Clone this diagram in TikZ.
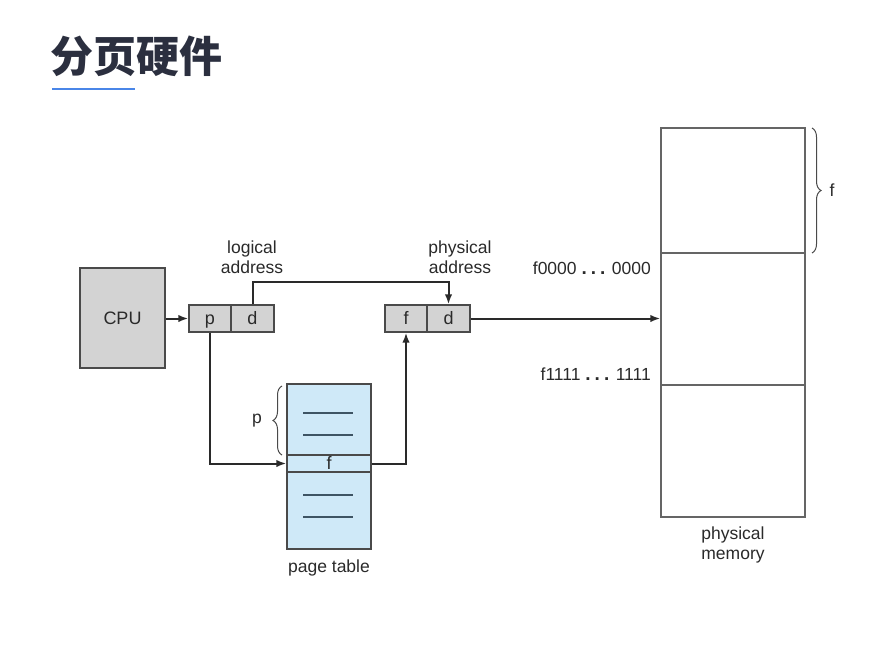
\documentclass[tikz,border=0pt]{standalone}
\usepackage{fontspec}
\setmainfont{Liberation Sans}
\newfontfamily\cjk{Noto Sans CJK SC}
\usetikzlibrary{arrows.meta,decorations.pathreplacing,calc}
\definecolor{boxgray}{HTML}{D3D3D3}
\definecolor{edgegray}{HTML}{4A4A4A}
\definecolor{ptblue}{HTML}{CFE9F8}
\definecolor{ptline}{HTML}{3E5464}
\definecolor{titlecol}{HTML}{2B2F3F}
\definecolor{ulblue}{HTML}{4A86E8}
\definecolor{txt}{HTML}{2A2A2A}
\newcommand{\bigdots}{{\bfseries\fontsize{19}{19}\selectfont .\hspace{4pt}.\hspace{4pt}.}}
\tikzset{
  graybox/.style={draw=edgegray, line width=1.4pt, fill=boxgray, inner sep=0pt, text=txt, font=\fontsize{18}{20}\selectfont},
  cell/.style={graybox, minimum height=27pt, text height=14pt, text depth=2pt},
  ptbox/.style={draw=edgegray, line width=1.4pt, fill=ptblue, inner sep=0pt, text=txt, font=\fontsize{18}{20}\selectfont},
  membox/.style={draw=edgegray!85, line width=1.4pt, fill=white, inner sep=0pt, minimum width=144pt},
  lbl/.style={text=txt, font=\fontsize{17.5}{19.5}\selectfont, align=center, inner sep=0pt},
  conn/.style={draw=txt, line width=2pt, -{Latex[length=10pt,width=7.5pt]}},
  brc/.style={draw=edgegray, line width=1pt, decorate, decoration={brace, amplitude=9pt}},
  entry/.style={draw=ptline, line width=1.3pt}
}
\begin{document}
\begin{tikzpicture}[x=1pt,y=-1pt]
\useasboundingbox (0,0) rectangle (890,645);
\fill[white] (0,0) rectangle (890,645);
% title
\node[anchor=west, inner sep=0pt, text=titlecol, font=\cjk\bfseries\fontsize{43}{46}\selectfont] (title) at (50,56) {分页硬件};
\draw[ulblue, line width=2pt] (52,89) -- (135,89);
% CPU
\node[graybox, minimum width=85pt, minimum height=100pt] (cpu) at (122.5,318) {CPU};
% logical address
\node[cell, minimum width=42pt] (lp) at (210,318.5) {p};
\node[cell, minimum width=43pt] (ld) at (252.5,318.5) {d};
\node[lbl] (llbl) at (252,257) {logical\\address};
% physical address
\node[cell, minimum width=42pt] (pf) at (406,318.5) {f};
\node[cell, minimum width=43pt] (pd) at (448.5,318.5) {d};
\node[lbl] (plbl) at (460,257) {physical\\address};
% page table
\node[ptbox, minimum width=84pt, minimum height=165pt] (pt) at (329,466.5) {};
\node[ptbox, minimum width=84pt, minimum height=17pt, text height=14pt, text depth=2pt] (frow) at (329,463.5) {f};
\draw[entry] (303,413) -- (353,413);
\draw[entry] (303,435) -- (353,435);
\draw[entry] (303,495) -- (353,495);
\draw[entry] (303,517) -- (353,517);
\node[lbl] (ptlbl) at (329,568) {page table};
\draw[brc] (282,455) -- (282,386);
\node[lbl] (plab) at (257,421) {p};
% physical memory
\node[membox, minimum height=125pt] (m1) at (733,190.5) {};
\node[membox, minimum height=132pt] (m2) at (733,319) {};
\node[membox, minimum height=132pt] (m3) at (733,451) {};
\node[lbl] (mlbl) at (733,545) {physical\\memory};
\draw[brc] (812,128) -- (812,253);
\node[lbl] (flab) at (832,190) {f};
\node[lbl, anchor=east] (a0) at (651,268) {f0000 \bigdots{} 0000};
\node[lbl, anchor=east] (a1) at (651,374) {f1111 \bigdots{} 1111};
% connectors
\coordinate (bend) at (448.5,282);
\draw[conn] (cpu.east |- lp.west) -- (lp.west);
\draw[conn] (ld.north) |- (bend) -- (pd.north);
\draw[conn] (lp.south) |- (frow.west);
\draw[conn] (frow.east) -| (pf.south);
\draw[conn] (pd.east) -- (pd.east -| m2.west);
\end{tikzpicture}
\end{document}
